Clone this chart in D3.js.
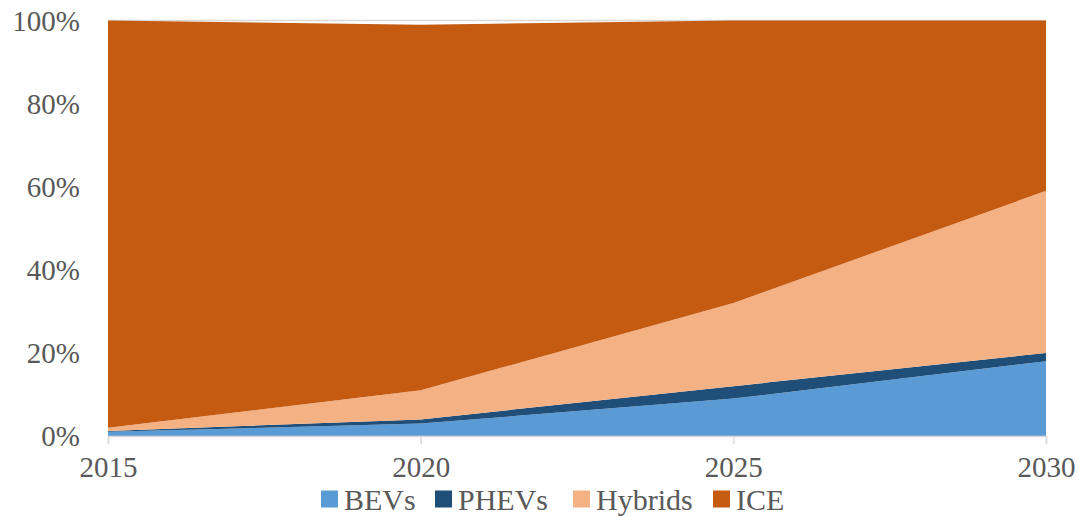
<!DOCTYPE html>
<html>
<head>
<meta charset="utf-8">
<script src="https://cdn.jsdelivr.net/npm/d3@7"></script>
<style>
  html, body { margin: 0; padding: 0; background: #fff; }
</style>
</head>
<body>
<svg id="chart" width="1079" height="516"></svg>
<script>
// Powertrain share of new vehicle sales (percent)
const years   = [2015, 2020, 2025, 2030];
const series  = ["BEVs", "PHEVs", "Hybrids", "ICE"];
const bevs    = [1, 3, 9, 18];
const phevs   = [0.2, 1, 3, 2];
const hybrids = [0.8, 7, 20, 39];
const ice     = [98, 88, 68, 41];
const colors  = ["#5B9BD5", "#1F4E79", "#F4B183", "#C55A11"];
const yTicks  = [0, 20, 40, 60, 80, 100];

const FONT = "'Liberation Serif', 'DejaVu Serif', serif";
const TEXT = "#595959";

const rows = years.map((yr, i) => ({
  year: yr, BEVs: bevs[i], PHEVs: phevs[i], Hybrids: hybrids[i], ICE: ice[i]
}));

const svg = d3.select("#chart");
const margin = { left: 108, right: 33, top: 20.5, bottom: 80 };
const W = 1079, H = 516;

const x = d3.scaleLinear().domain([2015, 2030]).range([margin.left, W - margin.right]);
const y = d3.scaleLinear().domain([0, 100]).range([H - margin.bottom, margin.top]);

// gridlines
svg.append("g")
  .selectAll("line").data(yTicks).join("line")
  .attr("x1", x(2015)).attr("x2", x(2030))
  .attr("y1", d => y(d)).attr("y2", d => y(d))
  .attr("stroke", "#d9d9d9").attr("stroke-width", 1.5);

// stacked areas
const stack = d3.stack().keys(series);
const layers = stack(rows);
const area = d3.area()
  .x(d => x(d.data.year))
  .y0(d => y(d[0]))
  .y1(d => y(d[1]));

svg.append("g")
  .selectAll("path").data(layers).join("path")
  .attr("d", area)
  .attr("fill", (d, i) => colors[i]);

// y axis labels
const yAxis = d3.axisLeft(y).tickValues(yTicks).tickFormat(d => d + "%").tickSize(0).tickPadding(28);
const gy = svg.append("g").attr("transform", `translate(${margin.left},0)`).call(yAxis)
  .attr("font-family", FONT).attr("font-size", 29);
gy.select(".domain").remove();
gy.selectAll("text").attr("fill", TEXT).attr("dy", "0.34em");

// x axis
const xAxis = d3.axisBottom(x).tickValues(years).tickFormat(d3.format("d")).tickSize(8).tickPadding(12);
const gx = svg.append("g").attr("transform", `translate(0,${y(0)})`).call(xAxis)
  .attr("font-family", FONT).attr("font-size", 29);
gx.select(".domain").attr("stroke", "#d9d9d9").attr("stroke-width", 1.5);
gx.selectAll(".tick line").attr("stroke", "#d9d9d9").attr("stroke-width", 1.5);
gx.selectAll("text").attr("fill", TEXT).attr("dy", "0.71em");

// legend
const legendX = [321, 435, 573, 713];
const lg = svg.append("g").attr("transform", "translate(0,499)")
  .attr("font-family", FONT).attr("font-size", 30);
const item = lg.selectAll("g").data(series).join("g")
  .attr("transform", (d, i) => `translate(${legendX[i]},0)`);
item.append("rect")
  .attr("x", 0).attr("y", -8.5).attr("width", 17).attr("height", 17)
  .attr("fill", (d, i) => colors[i]);
item.append("text")
  .attr("x", 23).attr("y", 0).attr("dy", "0.35em")
  .attr("fill", TEXT)
  .text(d => d);
</script>
</body>
</html>
